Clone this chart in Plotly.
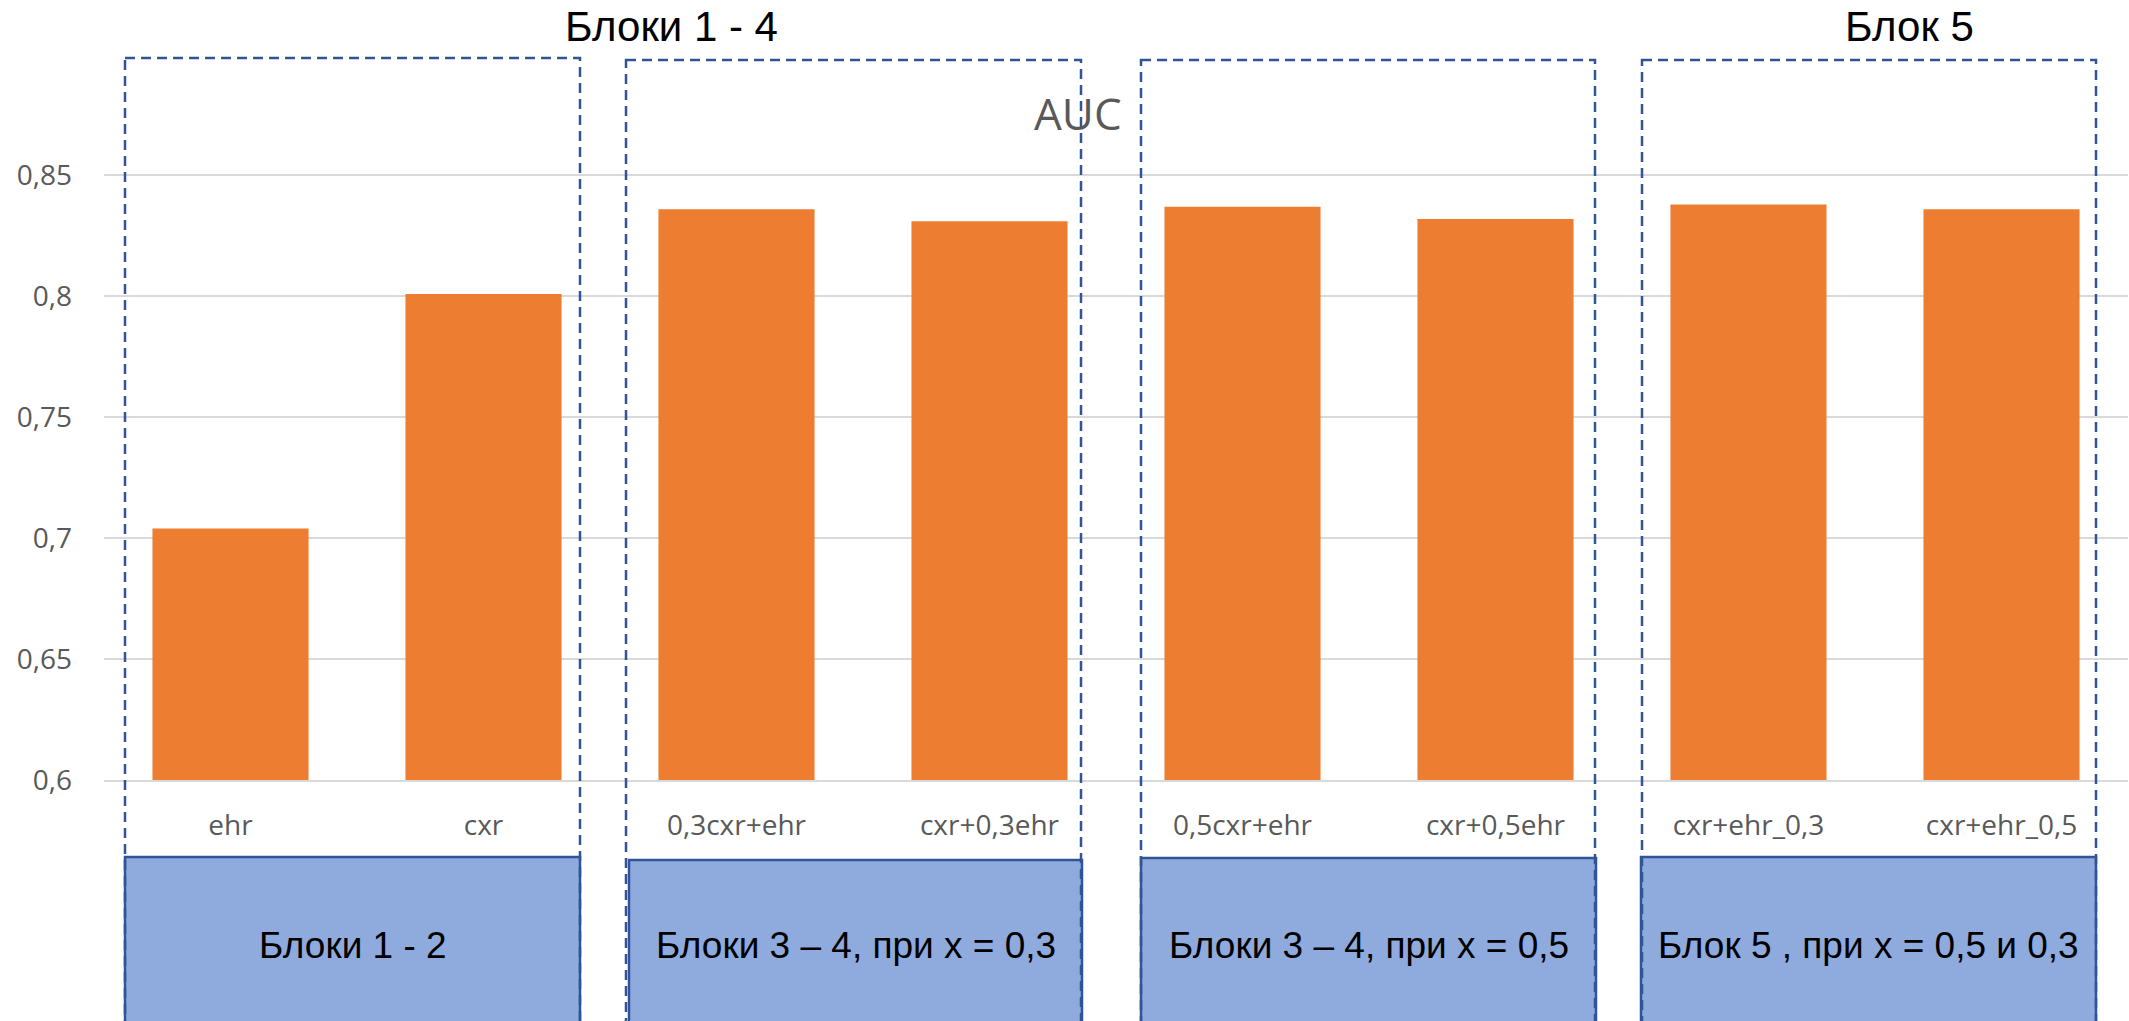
import plotly.graph_objects as go

# ---- data ----
categories = ["ehr", "cxr", "0,3cxr+ehr", "cxr+0,3ehr",
              "0,5cxr+ehr", "cxr+0,5ehr", "cxr+ehr_0,3", "cxr+ehr_0,5"]
auc_values = [0.704, 0.801, 0.836, 0.831, 0.837, 0.832, 0.838, 0.836]
y_tick_values = [0.6, 0.65, 0.7, 0.75, 0.8, 0.85]
y_tick_labels = ["0,6", "0,65", "0,7", "0,75", "0,8", "0,85"]
group_labels = ["Блоки 1 - 2", "Блоки 3 – 4, при x = 0,3",
                "Блоки 3 – 4, при x = 0,5", "Блок 5 , при x = 0,5 и 0,3"]
header_labels = ["Блоки 1 - 4", "Блок 5"]
chart_title = "AUC"

# ---- canvas / layout geometry (pixels) ----
W, H = 2129, 1021
M_L, M_R, M_T, M_B = 104, 1, 127, 241
Y_RANGE = [0.6, 0.87]
PLOT_W = W - M_L - M_R
PLOT_H = H - M_T - M_B


def paper_x(px):
    return (px - M_L) / PLOT_W


def paper_y(py):
    return (H - M_B - py) / PLOT_H


# dashed outlines around each group (left, right, top) and the captions below
dashed_boxes = [(125, 580, 58), (626, 1081, 60), (1141, 1595, 60), (1642, 2096, 60)]
caption_boxes = [(125, 580, 857), (629, 1082, 860), (1141, 1596, 858), (1641, 2096, 857)]
header_pos = [(671, 27), (1909, 27)]

ORANGE = "#ED7D31"
NAVY = "#2F5597"
LIGHT_BLUE = "#8FAADC"
GREY_TEXT = "#595959"

fig = go.Figure(
    go.Bar(
        x=categories,
        y=auc_values,
        marker=dict(color=ORANGE, line=dict(width=0)),
        hoverinfo="x+y",
    )
)

shapes = []
for (x0, x1, top) in caption_boxes:
    shapes.append(dict(
        type="rect", xref="paper", yref="paper",
        x0=paper_x(x0), x1=paper_x(x1), y0=paper_y(top), y1=paper_y(H + 20),
        fillcolor=LIGHT_BLUE, line=dict(color=NAVY, width=2.5), layer="above",
    ))
for (x0, x1, top) in dashed_boxes:
    shapes.append(dict(
        type="rect", xref="paper", yref="paper",
        x0=paper_x(x0), x1=paper_x(x1), y0=paper_y(top), y1=paper_y(H + 20),
        fillcolor="rgba(0,0,0,0)", line=dict(color=NAVY, width=2.5, dash="10px,6px"),
        layer="above",
    ))

annotations = []
for text, (x0, x1, top) in zip(group_labels, caption_boxes):
    annotations.append(dict(
        text=text, xref="paper", yref="paper",
        x=paper_x((x0 + x1) / 2), y=paper_y(945),
        xanchor="center", yanchor="middle", showarrow=False,
        font=dict(family="Liberation Sans, Arial", size=37, color="#000000"),
    ))
for text, (cx, cy) in zip(header_labels, header_pos):
    annotations.append(dict(
        text=text, xref="paper", yref="paper",
        x=paper_x(cx), y=paper_y(cy),
        xanchor="center", yanchor="middle", showarrow=False,
        font=dict(family="Liberation Sans, Arial", size=42, color="#000000"),
    ))
annotations.append(dict(
    text=chart_title, xref="paper", yref="paper",
    x=paper_x(1078), y=paper_y(113),
    xanchor="center", yanchor="middle", showarrow=False,
    font=dict(family="Open Sans", size=44, color=GREY_TEXT),
))

fig.update_layout(
    width=W, height=H,
    margin=dict(l=M_L, r=M_R, t=M_T, b=M_B, pad=0),
    paper_bgcolor="white", plot_bgcolor="white",
    bargap=0.383,
    showlegend=False,
    shapes=shapes,
    annotations=annotations,
    font=dict(family="Open Sans", color=GREY_TEXT),
)

fig.update_xaxes(
    type="category",
    showgrid=False,
    showline=True, linecolor="#D9D9D9", linewidth=2,
    ticks="",
    tickfont=dict(family="Open Sans", size=28, color=GREY_TEXT),
    ticklabelstandoff=19,
)
fig.update_yaxes(
    range=Y_RANGE,
    tickvals=y_tick_values,
    ticktext=y_tick_labels,
    showgrid=True, gridcolor="#D9D9D9", gridwidth=2,
    zeroline=False, showline=False,
    ticks="",
    tickfont=dict(family="Open Sans", size=28, color=GREY_TEXT),
    ticklabelstandoff=31,
)

fig.write_html("out.html")
